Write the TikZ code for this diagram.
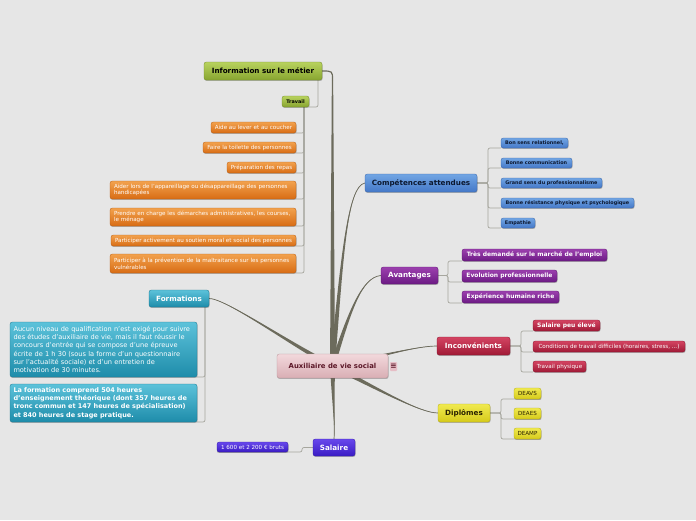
\documentclass[tikz,border=0pt]{standalone}
\usepackage{fontspec}
\setmainfont{DejaVu Sans}
\usetikzlibrary{calc,shadows,backgrounds}
\definecolor{bg}{HTML}{E6E6E6}
\definecolor{pk1}{HTML}{F2D8DC}\definecolor{pk2}{HTML}{D9AEB4}\definecolor{pkt}{HTML}{5C1828}
\definecolor{gr1}{HTML}{B8D25E}\definecolor{gr2}{HTML}{88A530}
\definecolor{or1}{HTML}{F2A24E}\definecolor{or2}{HTML}{D86C14}
\definecolor{bl1}{HTML}{72A6E4}\definecolor{bl2}{HTML}{4478C8}\definecolor{blt}{HTML}{0C1830}
\definecolor{pu1}{HTML}{9C40AE}\definecolor{pu2}{HTML}{6C1A84}
\definecolor{cr1}{HTML}{D44462}\definecolor{cr2}{HTML}{A01A36}
\definecolor{ye1}{HTML}{F0EA50}\definecolor{ye2}{HTML}{D6CA1A}\definecolor{yet}{HTML}{2A2200}
\definecolor{te1}{HTML}{5CC2DA}\definecolor{te2}{HTML}{1E8CAA}
\definecolor{in1}{HTML}{6848EC}\definecolor{in2}{HTML}{3A1CC4}
\definecolor{brc}{HTML}{6C6B5C}
\definecolor{subc}{HTML}{A6A69E}
\definecolor{icof}{HTML}{E6BEC6}
\newcommand\brch[5]{%
  \fill[brc] ($#1+#5$) .. controls ($#2+0.5*#5$) and #3 .. #4 .. controls #3 and ($#2-0.5*#5$) .. ($#1-#5$) -- cycle;
  \draw[brc,line width=0.7pt] #1 .. controls #2 and #3 .. #4;}
\tikzset{
  box/.style={rounded corners=2.2pt, inner sep=0pt, outer sep=0pt, align=center, line width=0.35pt,
    drop shadow={shadow xshift=0.5pt,shadow yshift=-0.9pt,opacity=0.25,fill=black}},
  col/.style n args={3}{top color=#1, bottom color=#2, draw=#2!85!black, text=#3},
  fbig/.style={font=\bfseries\fontsize{7.2}{8}\selectfont},
  fsmall/.style={font=\fontsize{5.6}{6.6}\selectfont},
  fsmallb/.style={font=\bfseries\fontsize{4.9}{6}\selectfont},
  fmidb/.style={font=\bfseries\fontsize{6}{7}\selectfont},
  gbox/.style={box, col={gr1}{gr2}{black}},
  obox/.style={box, col={or1}{or2}{white}, fsmall, anchor=east},
  bbox/.style={box, col={bl1}{bl2}{blt}},
  pbox/.style={box, col={pu1}{pu2}{white}},
  cbox/.style={box, col={cr1}{cr2}{white}},
  ybox/.style={box, col={ye1}{ye2}{yet}},
  tbox/.style={box, col={te1}{te2}{white}},
  ibox/.style={box, col={in1}{in2}{white}},
  sub/.style={draw=subc, line width=0.7pt, rounded corners=2pt},
}
\begin{document}
\begin{tikzpicture}[x=1pt,y=-1pt]
\useasboundingbox (0,0) rectangle (696,520);
\begin{pgfonlayer}{background}
\fill[bg] (0,0) rectangle (696,520);
\end{pgfonlayer}

% centre
\node[box, col={pk1}{pk2}{pkt}, minimum width=111pt, minimum height=24pt, font=\bfseries\fontsize{6.9}{8}\selectfont] (ctr) at (332.5,366) {Auxiliaire de vie social};
\node[rounded corners=0.8pt, fill=icof, text=pkt, inner sep=0pt, minimum width=7pt, minimum height=9pt, font=\bfseries\fontsize{7.5}{7.5}\selectfont] (ico) at (393.5,366.5) {≡};

% information
\node[gbox, fbig, minimum width=118pt, minimum height=18pt] (info) at (263,71) {Information sur le métier};
\node[gbox, fsmallb, minimum width=27pt, minimum height=11pt] (trav) at (295.5,101.5) {Travail};
\node[obox, minimum width=85pt, minimum height=11pt] (o1) at (296,127.5) {Aide au lever et au coucher};
\node[obox, minimum width=93pt, minimum height=11pt] (o2) at (296,147.5) {Faire la toilette des personnes};
\node[obox, minimum width=69pt, minimum height=11pt] (o3) at (296,167.5) {Préparation des repas};
\node[obox, minimum width=186pt, minimum height=18pt, text width=178pt, align=left] (o4) at (296,190) {Aider lors de l'appareillage ou désappareillage des personnes\\handicapées};
\node[obox, minimum width=186pt, minimum height=18pt, text width=178pt, align=left] (o5) at (296,217) {Prendre en charge les démarches administratives, les courses,\\le ménage};
\node[obox, minimum width=185pt, minimum height=11pt] (o6) at (296,240.5) {Participer activement au soutien moral et social des personnes};
\node[obox, minimum width=186pt, minimum height=19pt, text width=178pt, align=left] (o7) at (296,263.5) {Participer à la prévention de la maltraitance sur les personnes\\vulnérables};

% competences
\node[bbox, fbig, minimum width=112pt, minimum height=18pt] (comp) at (421,183) {Compétences attendues};
\node[bbox, fsmallb, anchor=west, minimum width=67pt, minimum height=10pt] (c1) at (501,143) {Bon sens relationnel,};
\node[bbox, fsmallb, anchor=west, minimum width=71pt, minimum height=10pt] (c2) at (501,163) {Bonne communication};
\node[bbox, fsmallb, anchor=west, minimum width=101pt, minimum height=10pt] (c3) at (501,183) {Grand sens du professionnalisme};
\node[bbox, fsmallb, anchor=west, minimum width=133pt, minimum height=10pt] (c4) at (501,203) {Bonne résistance physique et psychologique};
\node[bbox, fsmallb, anchor=west, minimum width=34pt, minimum height=10pt] (c5) at (501,223) {Empathie};

% avantages
\node[pbox, fbig, minimum width=57pt, minimum height=17pt] (av) at (409.5,275.5) {Avantages};
\node[pbox, fmidb, anchor=west, minimum width=145pt, minimum height=12pt] (a1) at (462,255) {Très demandé sur le marché de l'emploi};
\node[pbox, fmidb, anchor=west, minimum width=95pt, minimum height=12pt] (a2) at (462,276) {Evolution professionnelle};
\node[pbox, fmidb, anchor=west, minimum width=97pt, minimum height=12pt] (a3) at (462,297) {Expérience humaine riche};

% inconvenients
\node[cbox, fbig, minimum width=73pt, minimum height=18pt] (inc) at (473.5,346) {Inconvénients};
\node[cbox, fmidb, anchor=west, minimum width=67pt, minimum height=11pt] (i1) at (533,325.5) {Salaire peu élevé};
\node[cbox, font=\fontsize{5.6}{6.6}\selectfont, anchor=west, minimum width=152pt, minimum height=11pt] (i2) at (533,346.5) {Conditions de travail difficiles (horaires, stress, ...)};
\node[cbox, fsmall, anchor=west, minimum width=53pt, minimum height=11pt] (i3) at (533,366.5) {Travail physique};

% diplomes
\node[ybox, fbig, minimum width=52pt, minimum height=18pt] (dip) at (464,413) {Diplômes};
\node[ybox, fsmall, anchor=west, minimum width=27pt, minimum height=11pt] (d1) at (514,393.5) {DEAVS};
\node[ybox, fsmall, anchor=west, minimum width=27pt, minimum height=11pt] (d2) at (514,413.5) {DEAES};
\node[ybox, fsmall, anchor=west, minimum width=27pt, minimum height=11pt] (d3) at (514,433.5) {DEAMP};

% formations
\node[tbox, fbig, minimum width=60pt, minimum height=17pt] (form) at (179,298.5) {Formations};
\node[tbox, anchor=north west, minimum width=187pt, minimum height=55pt, text width=180pt, align=left, font=\fontsize{6.6}{8.3}\selectfont] (f1) at (10,322) {Aucun niveau de qualification n'est exigé pour suivre\\des études d'auxiliaire de vie, mais il faut réussir le\\concours d'entrée qui se compose d'une épreuve\\écrite de 1 h 30 (sous la forme d'un questionnaire\\sur l'actualité sociale) et d'un entretien de\\motivation de 30 minutes.};
\node[tbox, anchor=north west, minimum width=187pt, minimum height=38pt, text width=180pt, align=left, font=\bfseries\fontsize{6.5}{8.3}\selectfont] (f2) at (10,384) {La formation comprend 504 heures\\d'enseignement théorique (dont 357 heures de\\tronc commun et 147 heures de spécialisation)\\et 840 heures de stage pratique.};

% salaire
\node[ibox, fbig, minimum width=42pt, minimum height=17pt] (sal) at (334,447.5) {Salaire};
\node[ibox, fsmall, minimum width=71pt, minimum height=10pt] (s1) at (252.5,447) {1 600 et 2 200 € bruts};

\begin{pgfonlayer}{background}
% main branches
\coordinate (jinfo) at (332.5,80);
\fill[brc] ($(ctr.center)+(-2.5,0)$) -- ($(jinfo)+(-0.65,0)$) -- ($(jinfo)+(0.65,0)$) -- ($(ctr.center)+(2.5,0)$) -- cycle;
\draw[brc, line width=1.2pt] (jinfo) .. controls (332.5,71) .. (info.east);
\brch{(ctr.center)}{(342,260)}{(347,186)}{(comp.west)}{(2.5,0)}
\brch{(ctr.center)}{(350,310)}{(362,277)}{(av.west)}{(2.2,1.2)}
\brch{(ctr.center)}{(375,358)}{(415,346)}{(inc.west)}{(0.5,2.5)}
\brch{(ctr.center)}{(380,390)}{(420,413)}{(dip.west)}{(-1,2.3)}
\brch{(ctr.center)}{(333,400)}{(335,425)}{(sal.north)}{(2.5,0)}
\brch{(ctr.center)}{(290,344)}{(225,298)}{(form.east)}{(1.2,-2.2)}
% sub connectors
\draw[sub] ($(info.south east)+(-4,0)$) |- (trav.south east);
\foreach \o in {o1,o2,o3,o4,o5,o6,o7} \draw[sub] ($(trav.south east)+(-5,0)$) |- (\o.south east);
\foreach \c in {c1,c2,c3,c4,c5} \draw[sub] (comp.east) -- ++(11,0) |- (\c.south west);
\foreach \a in {a1,a2,a3} \draw[sub] (av.east) -- ++(10,0) |- (\a.south west);
\foreach \i in {i1,i2,i3} \draw[sub] (inc.east) -- ++(11,0) |- (\i.south west);
\foreach \d in {d1,d2,d3} \draw[sub] (dip.east) -- ++(11,0) |- (\d.south east);
\foreach \f in {f1,f2} \draw[sub] ($(form.south east)+(-4,0)$) |- (\f.south east);
\draw[sub] (sal.west) -- ++(-11,0) |- (s1.south west);
\end{pgfonlayer}
\end{tikzpicture}
\end{document}
